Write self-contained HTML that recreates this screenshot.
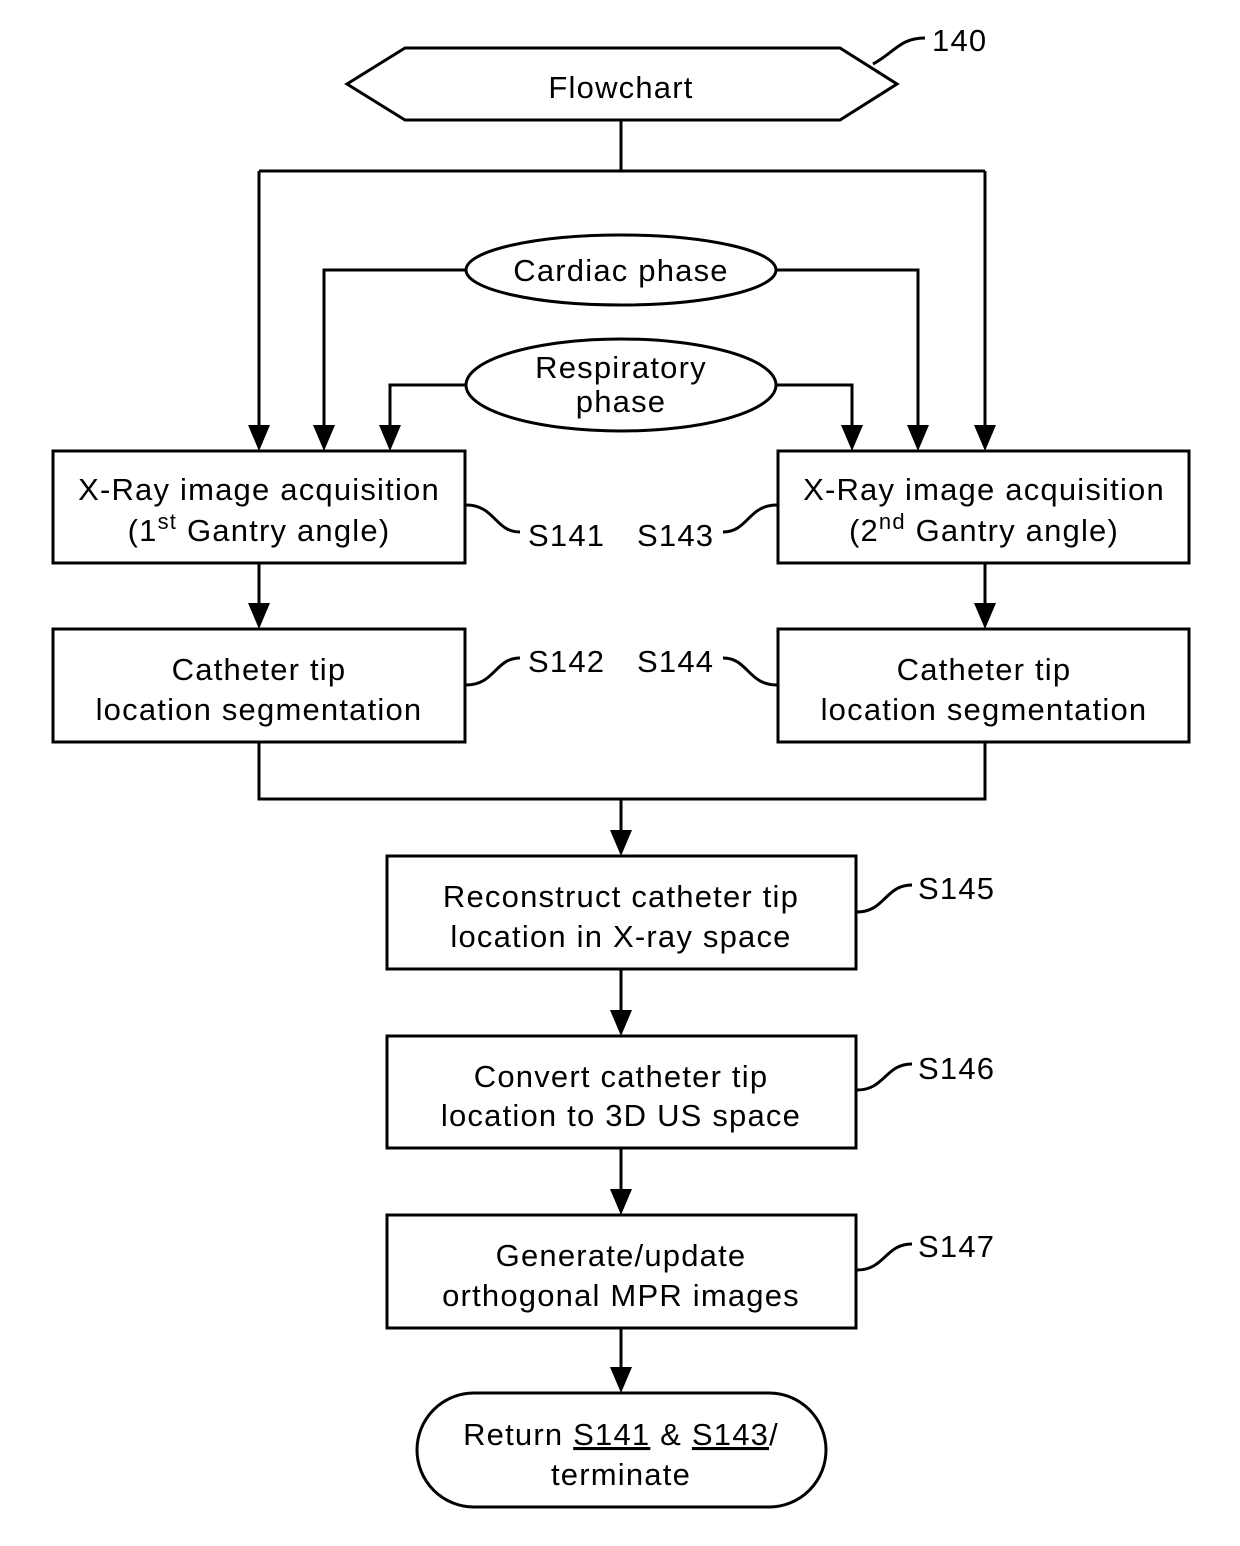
<!DOCTYPE html>
<html><head><meta charset="utf-8"><style>
html,body{margin:0;padding:0;background:#fff;}
svg{display:block;}
text{font-family:"Liberation Sans",sans-serif;font-size:31px;fill:#000;letter-spacing:1.2px;}
</style></head><body>
<svg width="1240" height="1546" viewBox="0 0 1240 1546" xmlns="http://www.w3.org/2000/svg">
<g fill="none" stroke="#000" stroke-width="3">
<polygon points="347,84 405,48 840,48 897,84 840,120 405,120"/>
<path d="M873,64 C895,52 900,38 925,38"/>
<ellipse cx="621" cy="270" rx="155" ry="35"/>
<ellipse cx="621" cy="385" rx="155" ry="46"/>
<rect x="53" y="451" width="412" height="112"/>
<rect x="778" y="451" width="411" height="112"/>
<rect x="53" y="629" width="412" height="113"/>
<rect x="778" y="629" width="411" height="113"/>
<rect x="387" y="856" width="469" height="113"/>
<rect x="387" y="1036" width="469" height="112"/>
<rect x="387" y="1215" width="469" height="113"/>
<rect x="417" y="1393" width="409" height="114" rx="57"/>
<path d="M621,120 V171 M259,171 H985"/>
<path d="M259,171 V428 M985,171 V428 M467,270 H324 V428 M775,270 H918 V428 M467,385 H390 V428 M775,385 H852 V428"/>
<path d="M259,563 V606 M985,563 V606"/>
<path d="M259,742 V799 H985 V742 M621,799 V833"/>
<path d="M621,969 V1013 M621,1148 V1192 M621,1328 V1370"/>
<path d="M466,505 C495,505 495,532 520,532"/>
<path d="M777,505 C748,505 748,532 723,532"/>
<path d="M466,685 C495,685 495,658 520,658"/>
<path d="M777,685 C748,685 748,658 723,658"/>
<path d="M857,912 C885,912 885,885 912,885"/>
<path d="M857,1090 C885,1090 885,1064 912,1064"/>
<path d="M857,1270 C885,1270 885,1244 912,1244"/>
</g>
<g fill="#000">
<path d="M248,425 h22 l-11,26 z"/><path d="M313,425 h22 l-11,26 z"/><path d="M379,425 h22 l-11,26 z"/>
<path d="M841,425 h22 l-11,26 z"/><path d="M907,425 h22 l-11,26 z"/><path d="M974,425 h22 l-11,26 z"/>
<path d="M248,603 h22 l-11,26 z"/><path d="M974,603 h22 l-11,26 z"/>
<path d="M610,830 h22 l-11,26 z"/><path d="M610,1010 h22 l-11,26 z"/><path d="M610,1189 h22 l-11,26 z"/><path d="M610,1367 h22 l-11,26 z"/>
</g>
<g text-anchor="middle">
<text x="621" y="98">Flowchart</text>
<text x="621" y="281">Cardiac phase</text>
<text x="621" y="378">Respiratory</text>
<text x="621" y="412">phase</text>
<text x="259" y="500">X-Ray image acquisition</text>
<text x="259" y="541">(1<tspan dy="-12" font-size="22">st</tspan><tspan dy="12"> Gantry angle)</tspan></text>
<text x="984" y="500">X-Ray image acquisition</text>
<text x="984" y="541">(2<tspan dy="-12" font-size="22">nd</tspan><tspan dy="12"> Gantry angle)</tspan></text>
<text x="259" y="680">Catheter tip</text>
<text x="259" y="720">location segmentation</text>
<text x="984" y="680">Catheter tip</text>
<text x="984" y="720">location segmentation</text>
<text x="621" y="907">Reconstruct catheter tip</text>
<text x="621" y="947">location in X-ray space</text>
<text x="621" y="1087">Convert catheter tip</text>
<text x="621" y="1126">location to 3D US space</text>
<text x="621" y="1266">Generate/update</text>
<text x="621" y="1306">orthogonal MPR images</text>
<text x="621" y="1445">Return <tspan text-decoration="underline">S141</tspan> &amp; <tspan text-decoration="underline">S143</tspan>/</text>
<text x="621" y="1485">terminate</text>
</g>
<text x="932" y="51">140</text>
<text x="528" y="546">S141</text>
<text x="637" y="546">S143</text>
<text x="528" y="672">S142</text>
<text x="637" y="672">S144</text>
<text x="918" y="899">S145</text>
<text x="918" y="1079">S146</text>
<text x="918" y="1257">S147</text>
</svg>
</body></html>
